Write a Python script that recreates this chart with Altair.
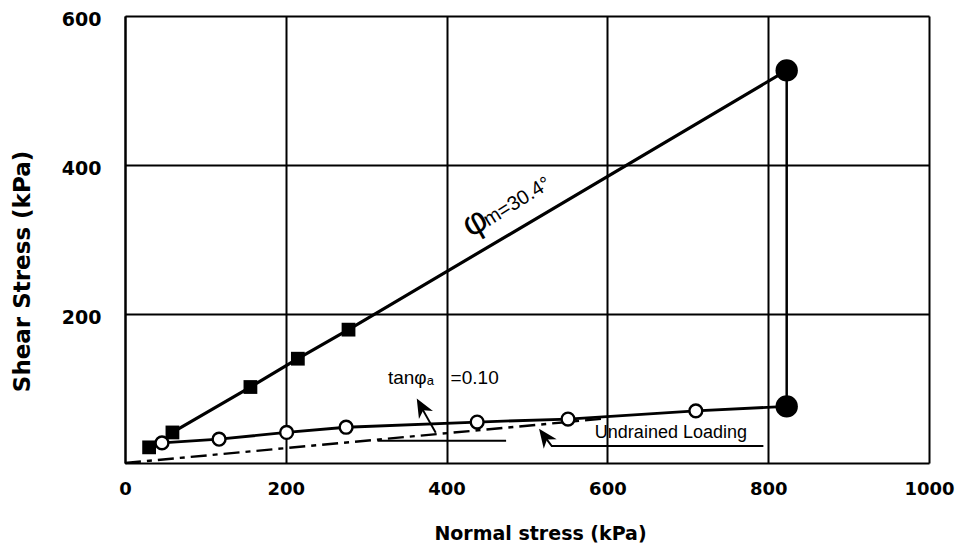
import altair as alt
import pandas as pd

# ---- data ----
sq_x = [30, 59, 156, 215, 278]          # filled squares (drained)
sq_y = [21, 41, 102, 140, 179]
open_x = [46, 117, 201, 275, 438, 551, 710]   # open circles (undrained)
open_y = [27, 32, 41, 48, 55, 59, 70]
big_x = [823, 823]                        # large filled circles
big_y = [527, 76]
dash_x = [0, 600]                         # tan(phi_a)=0.10 line
dash_y = [0, 60]
x_ticks = [0, 200, 400, 600, 800, 1000]
y_ticks = [200, 400, 600]

# annotation guide lines
ann_g = ["tan_shaft", "tan_shaft", "tan_base", "tan_base", "und", "und", "und"]
ann_x = [386.5, 369.0, 314, 474, 522.0, 530.8, 794]
ann_y = [40.6, 74.0, 29.9, 29.9, 35.5, 22.7, 22.7]
# arrow heads
head_x = [368.9, 522.3]
head_y = [75.0, 35.2]
head_a = [331, 324]

FONT_AX = "DejaVu Sans"
FONT_TX = "Liberation Sans"

X = alt.X("x:Q", scale=alt.Scale(domain=[0, 1000], nice=False, zero=False),
          axis=alt.Axis(values=x_ticks, format="d", title="Normal stress (kPa)", ticks=False,
                        labelFlush=False, labelFont=FONT_AX, labelFontWeight="bold",
                        labelFontSize=18, labelPadding=17, labelColor="black",
                        grid=True, gridColor="black", gridWidth=2, gridOpacity=1,
                        domainColor="black", domainWidth=2,
                        titleFont=FONT_AX, titleFontWeight="bold", titleFontSize=19,
                        titleColor="black", titleX=415, titleY=70,
                        titleBaseline="middle", titleAlign="center"))
Y = alt.Y("y:Q", scale=alt.Scale(domain=[0, 600], nice=False, zero=False),
          axis=alt.Axis(values=y_ticks, format="d", title="Shear  Stress  (kPa)", ticks=False,
                        labelFlush=False, labelFont=FONT_AX, labelFontWeight="bold",
                        labelFontSize=19, labelPadding=24, labelColor="black",
                        labelOffset=3,
                        grid=True, gridColor="black", gridWidth=2, gridOpacity=1,
                        domainColor="black", domainWidth=2,
                        titleFont=FONT_AX, titleFontWeight="bold", titleFontSize=23,
                        titleColor="black", titleAngle=270, titleX=-103, titleY=255,
                        titleBaseline="middle", titleAlign="center"))

sq_df = pd.DataFrame({"x": sq_x, "y": sq_y})
open_df = pd.DataFrame({"x": open_x, "y": open_y})
big_df = pd.DataFrame({"x": big_x, "y": big_y})
upper_df = pd.DataFrame({"x": sq_x[1:] + [big_x[0]], "y": sq_y[1:] + [big_y[0]]})
lower_df = pd.DataFrame({"x": open_x + [big_x[1]], "y": open_y + [big_y[1]]})
dash_df = pd.DataFrame({"x": dash_x, "y": dash_y})
ann_df = pd.DataFrame({"g": ann_g, "x": ann_x, "y": ann_y})
head_df = pd.DataFrame({"x": head_x, "y": head_y, "a": head_a})

upper = alt.Chart(upper_df).mark_line(color="black", strokeWidth=3.2).encode(x=X, y=Y)
lower = alt.Chart(lower_df).mark_line(color="black", strokeWidth=2.8).encode(x=X, y=Y)
vert = alt.Chart(big_df).mark_line(color="black", strokeWidth=2.5).encode(x=X, y=Y)
dash = alt.Chart(dash_df).mark_line(color="black", strokeWidth=2.4,
                                    strokeDash=[16, 6, 5, 6]).encode(x=X, y=Y)
ann_lines = alt.Chart(ann_df).mark_line(color="black", strokeWidth=2).encode(
    x=X, y=Y, detail="g:N")
heads = alt.Chart(head_df).mark_point(
    shape="M0,-1L0.8,0.9L0,0.35L-0.8,0.9Z", filled=True, color="black",
    size=400, opacity=1).encode(x=X, y=Y, angle=alt.Angle("a:Q", scale=None))

squares = alt.Chart(sq_df).mark_point(shape="square", filled=True, color="black",
                                      size=190, opacity=1).encode(x=X, y=Y)
opens = alt.Chart(open_df).mark_point(shape="circle", filled=True, fill="white",
                                      stroke="black", strokeWidth=2.4, size=165,
                                      opacity=1).encode(x=X, y=Y)
bigs = alt.Chart(big_df).mark_point(shape="circle", filled=True, color="black",
                                    size=500, opacity=1).encode(x=X, y=Y)

phi = alt.Chart(pd.DataFrame({"x": [435], "y": [323], "t": ["φ"]})).mark_text(
    font=FONT_TX, fontSize=36, angle=330, align="center", baseline="middle",
    color="black").encode(x=X, y=Y, text="t:N")
phi_m = alt.Chart(pd.DataFrame({"x": [452], "y": [317], "t": ["m=30.4°"]})).mark_text(
    font=FONT_TX, fontSize=20, angle=328, align="left", baseline="alphabetic",
    color="black").encode(x=X, y=Y, text="t:N")
tan_t = alt.Chart(pd.DataFrame({"x": [384], "y": [114], "t": ["tanφₐ"]})).mark_text(
    font=FONT_TX, fontSize=19, align="right", baseline="middle",
    color="black").encode(x=X, y=Y, text="t:N")
tan_v = alt.Chart(pd.DataFrame({"x": [405], "y": [114], "t": ["=0.10"]})).mark_text(
    font=FONT_TX, fontSize=19, align="left", baseline="middle",
    color="black").encode(x=X, y=Y, text="t:N")
und_t = alt.Chart(pd.DataFrame({"x": [679], "y": [40], "t": ["Undrained Loading"]})).mark_text(
    font=FONT_TX, fontSize=18, align="center", baseline="middle",
    color="black").encode(x=X, y=Y, text="t:N")

chart = alt.layer(
    dash, lower, upper, vert, ann_lines, heads, squares, opens, bigs,
    phi, phi_m, tan_t, tan_v, und_t
).properties(
    width=804, height=447,
    autosize=alt.AutoSizeParams(type="none"),
    padding={"left": 117, "top": 8, "right": 28, "bottom": 82},
).configure_view(stroke="black", strokeWidth=2).configure(background="white")

chart.save("out.html", embed_options={"renderer": "svg", "actions": False})
